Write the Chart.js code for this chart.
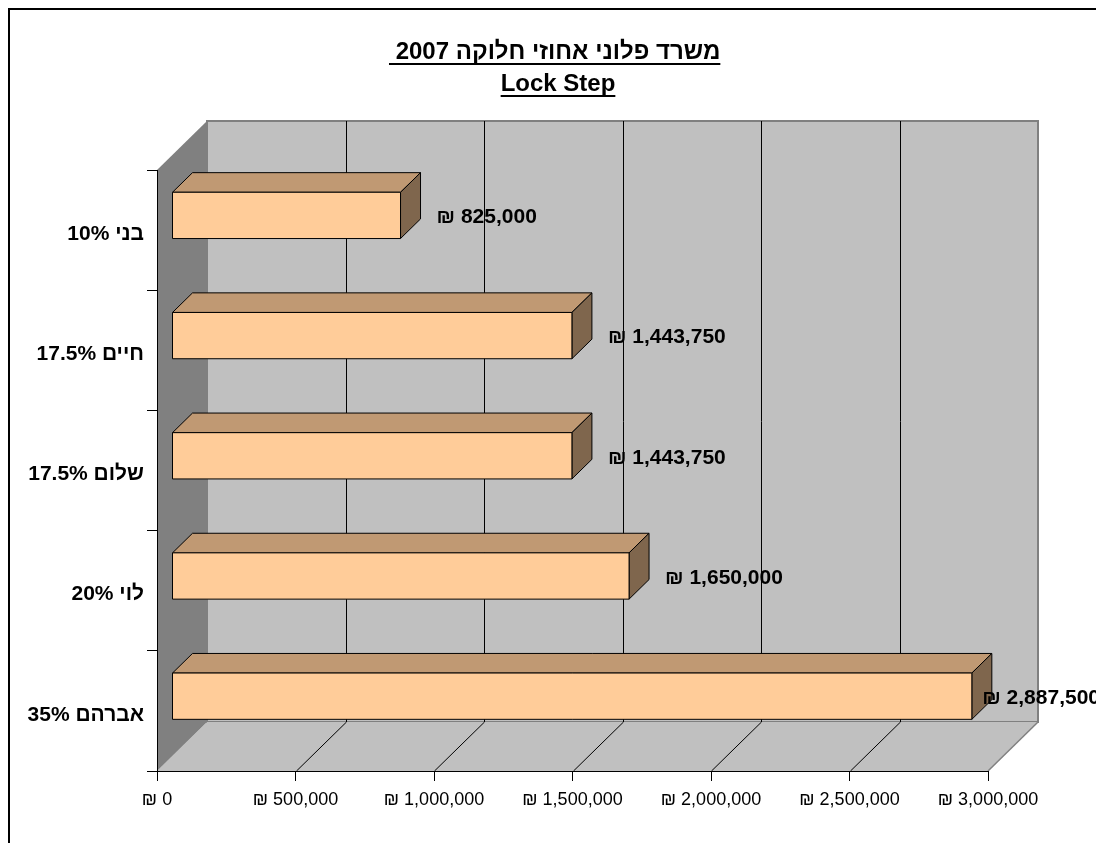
<!DOCTYPE html>
<html lang="he">
<head>
<meta charset="utf-8">
<title>Lock Step</title>
<script src="https://cdn.jsdelivr.net/npm/chart.js@4.4.0/dist/chart.umd.min.js"></script>
<style>
  html, body { margin: 0; padding: 0; background: #fff; }
  #wrap { position: relative; width: 1096px; height: 843px; }
</style>
</head>
<body>
<div id="wrap"><canvas id="lockStepChart"></canvas></div>
<script>
const titleLines = ['משרד פלוני אחוזי חלוקה 2007', 'Lock Step'];
const partners = ['בני 10%', 'חיים 17.5%', 'שלום 17.5%', 'לוי 20%', 'אברהם 35%'];
const payouts = [825000, 1443750, 1443750, 1650000, 2887500];
const xTickValues = [0, 500000, 1000000, 1500000, 2000000, 2500000, 3000000];
const xTickLabels = ['₪ 0', '₪ 500,000', '₪ 1,000,000', '₪ 1,500,000', '₪ 2,000,000', '₪ 2,500,000', '₪ 3,000,000'];

const FONT = 'Arial, "Liberation Sans", sans-serif';

// 3D look: how far the back wall sits up and to the right of the front plane
const DX = 50;
const DY = 49;
const BAR_FRONT = 0.3;  // bar front face, as share of the depth
const BAR_DEPTH = 0.4;  // bar thickness, as share of the depth

function poly(ctx, pts, fill, stroke) {
    ctx.beginPath();
    ctx.moveTo(pts[0][0], pts[0][1]);
    for (let i = 1; i < pts.length; i++) ctx.lineTo(pts[i][0], pts[i][1]);
    ctx.closePath();
    if (fill) { ctx.fillStyle = fill; ctx.fill(); }
    if (stroke) { ctx.strokeStyle = stroke; ctx.stroke(); }
}

function line(ctx, x0, y0, x1, y1) {
    ctx.beginPath();
    ctx.moveTo(x0, y0);
    ctx.lineTo(x1, y1);
    ctx.stroke();
}

const depthPlugin = {
    id: 'depth',
    beforeDraw(chart) {
        const ctx = chart.ctx;
        const { left, right, top, bottom } = chart.chartArea;
        const xs = chart.scales.x;
        ctx.save();

        // outer frame of the chart object
        ctx.strokeStyle = '#000';
        ctx.lineWidth = 2;
        ctx.strokeRect(9, 9, chart.width + 20, chart.height + 20);

        // back wall
        ctx.fillStyle = '#c0c0c0';
        ctx.fillRect(left + DX, top - DY, right - left, bottom - top);
        ctx.strokeStyle = '#808080';
        ctx.lineWidth = 2;
        ctx.strokeRect(left + DX, top - DY, right - left, bottom - top);

        // floor
        ctx.lineWidth = 1.5;
        poly(ctx, [[left, bottom], [right, bottom], [right + DX, bottom - DY], [left + DX, bottom - DY]], '#c0c0c0');
        ctx.strokeStyle = '#808080';
        line(ctx, right, bottom, right + DX, bottom - DY);

        // gridlines on wall and floor
        ctx.strokeStyle = '#000';
        ctx.lineWidth = 1;
        xTickValues.forEach(function(v, i) {
            if (i === 0 || i === xTickValues.length - 1) return;
            const px = Math.round(xs.getPixelForValue(v)) + 0.5;
            line(ctx, px + DX, top - DY, px + DX, bottom - DY);
            line(ctx, px, bottom, px + DX, bottom - DY);
        });

        // left side wall
        poly(ctx, [[left, top], [left + DX, top - DY], [left + DX, bottom - DY], [left, bottom]], '#808080');
        ctx.restore();
    },
    afterDatasetsDraw(chart) {
        const ctx = chart.ctx;
        const meta = chart.getDatasetMeta(0);
        const ox = DX * BAR_DEPTH, oy = DY * BAR_DEPTH;
        ctx.save();
        ctx.lineWidth = 1;
        ctx.lineJoin = 'miter';
        meta.data.forEach(function(bar, i) {
            const p = bar.getProps(['x', 'y', 'base', 'height'], true);
            const x0 = p.base + DX * BAR_FRONT;
            const x1 = p.x + DX * BAR_FRONT;
            const yc = p.y - DY * BAR_FRONT;
            const y0 = yc - p.height / 2;
            const y1 = yc + p.height / 2;

            poly(ctx, [[x0, y0], [x1, y0], [x1 + ox, y0 - oy], [x0 + ox, y0 - oy]], '#c09973', '#000');
            poly(ctx, [[x1, y0], [x1 + ox, y0 - oy], [x1 + ox, y1 - oy], [x1, y1]], '#7f664d', '#000');
            poly(ctx, [[x0, y0], [x1, y0], [x1, y1], [x0, y1]], '#ffcc99', '#000');

            // value label
            const text = '₪ ' + payouts[i].toLocaleString('en-US');
            ctx.font = 'bold 21px ' + FONT;
            ctx.fillStyle = '#000';
            ctx.textAlign = 'left';
            ctx.textBaseline = 'middle';
            const w = ctx.measureText(text).width;
            const lx = Math.min(x1 + 36, chart.width - w + 4);
            ctx.fillText(text, lx, yc + 2);
        });
        ctx.restore();
    },
    afterDraw(chart) {
        // underline the title lines
        const ctx = chart.ctx;
        const tb = chart.titleBlock;
        const cx = (tb.left + tb.right) / 2;
        ctx.save();
        ctx.font = 'bold 24px ' + FONT;
        const space = ctx.measureText(' ').width;
        ctx.strokeStyle = '#000';
        ctx.lineWidth = 2;
        titleLines.forEach(function(t, i) {
            const w = ctx.measureText(t).width;
            const y = tb.top + 36 + 16 + i * 32 + 12;
            const extra = i === 0 ? space : 0;
            line(ctx, cx - w / 2 - extra, y, cx + w / 2, y);
        });
        ctx.restore();
    }
};

new Chart(document.getElementById('lockStepChart'), {
    type: 'bar',
    data: {
        labels: partners,
        datasets: [{
            data: payouts,
            backgroundColor: 'rgba(0,0,0,0)',
            borderWidth: 0,
            categoryPercentage: 1,
            barPercentage: 0.385
        }]
    },
    options: {
        indexAxis: 'y',
        responsive: true,
        maintainAspectRatio: false,
        animation: false,
        events: [],
        layout: { padding: { left: 20, right: 0, top: 0, bottom: 0 } },
        plugins: {
            legend: { display: false },
            tooltip: { enabled: false },
            title: {
                display: true,
                text: titleLines,
                color: '#000',
                font: { family: FONT, size: 24, weight: 'bold', lineHeight: '32px' },
                padding: { top: 36, bottom: 70 }
            }
        },
        scales: {
            x: {
                type: 'linear',
                min: 0,
                max: 3000000,
                afterBuildTicks: function(s) {
                    s.ticks = xTickValues.map(v => ({ value: v }));
                },
                ticks: {
                    callback: (v, i) => xTickLabels[i],
                    color: '#000',
                    font: { family: FONT, size: 18 },
                    padding: 8,
                    maxRotation: 0,
                    autoSkip: false
                },
                grid: { drawOnChartArea: false, color: '#000', tickLength: 10 },
                border: { color: '#000' },
                afterFit: function(s) { s.height = 72; }
            },
            y: {
                type: 'category',
                ticks: {
                    color: '#000',
                    font: { family: FONT, size: 21, weight: 'bold' },
                    padding: 3,
                    labelOffset: 4
                },
                grid: { drawOnChartArea: false, color: '#000', tickLength: 10, offset: true },
                border: { color: '#000' },
                afterFit: function(s) { s.width = 137; }
            },
            yRight: {
                type: 'category',
                axis: 'y',
                position: 'right',
                labels: partners,
                ticks: { display: false },
                grid: { display: false },
                border: { display: false },
                afterFit: function(s) { s.width = 108; }
            }
        }
    },
    plugins: [depthPlugin]
});
</script>
</body>
</html>
